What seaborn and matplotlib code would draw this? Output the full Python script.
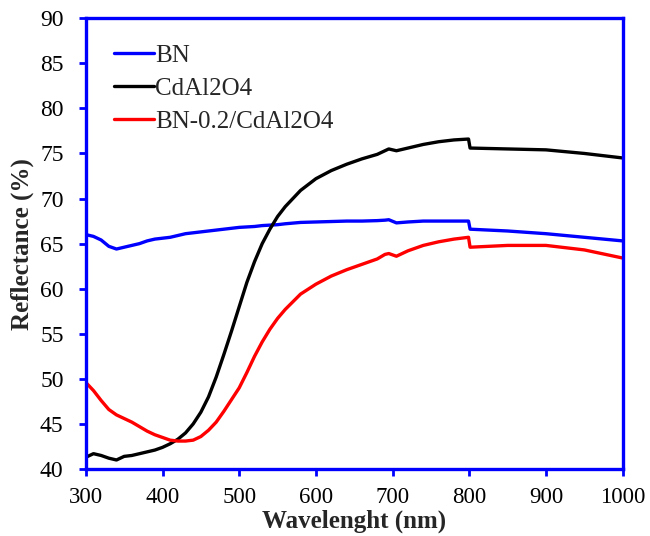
import matplotlib
matplotlib.use("Agg")
import matplotlib.pyplot as plt
import numpy as np
import pandas as pd
import seaborn as sns

# wavelength grid (nm) shared by all three spectra; 799/801 carry the detector step
WAVELENGTH = [300, 310, 320, 330, 340, 350, 360, 370, 380, 390, 400, 410, 420, 430,
              440, 450, 460, 470, 480, 490, 500, 510, 520, 530, 540, 550, 560, 580,
              600, 620, 640, 660, 680, 690, 695, 705, 720, 740, 760, 780, 799, 801,
              850, 900, 950, 1000]

BN = [66.0, 65.8, 65.4, 64.7, 64.4, 64.6, 64.8, 65.0, 65.3, 65.5, 65.6, 65.7, 65.9, 66.1,
      66.2, 66.3, 66.4, 66.5, 66.6, 66.7, 66.8, 66.85, 66.9, 67.0, 67.05, 67.1, 67.2, 67.35,
      67.4, 67.45, 67.5, 67.5, 67.55, 67.6, 67.65, 67.3, 67.4, 67.5, 67.5, 67.5, 67.5, 66.6,
      66.4, 66.1, 65.7, 65.3]

CDAL2O4 = [41.3, 41.7, 41.5, 41.2, 41.0, 41.4, 41.5, 41.7, 41.9, 42.1, 42.4, 42.8, 43.3, 44.0,
           45.0, 46.3, 48.0, 50.2, 52.7, 55.3, 58.0, 60.7, 63.0, 65.0, 66.6, 68.0, 69.1, 70.9,
           72.2, 73.1, 73.8, 74.4, 74.9, 75.3, 75.5, 75.3, 75.6, 76.0, 76.3, 76.5, 76.6, 75.6,
           75.5, 75.4, 75.0, 74.5]

BN_CDAL2O4 = [49.6, 48.7, 47.6, 46.6, 46.0, 45.6, 45.2, 44.7, 44.2, 43.8, 43.5, 43.2, 43.1, 43.1,
              43.2, 43.6, 44.3, 45.2, 46.4, 47.7, 49.0, 50.7, 52.5, 54.1, 55.5, 56.7, 57.7, 59.4,
              60.5, 61.4, 62.1, 62.7, 63.3, 63.8, 63.9, 63.6, 64.2, 64.8, 65.2, 65.5, 65.7, 64.6,
              64.8, 64.8, 64.3, 63.4]

SERIES = ["BN", "CdAl2O4", "BN-0.2/CdAl2O4"]
COLORS = ["#0000ff", "#000000", "#ff0000"]

df = pd.DataFrame({
    "Wavelength": WAVELENGTH * 3,
    "Reflectance": BN + CDAL2O4 + BN_CDAL2O4,
    "Sample": np.repeat(SERIES, len(WAVELENGTH)),
})

sns.set_theme(style="white")
plt.rcParams["font.family"] = ["Liberation Serif", "DejaVu Serif"]

fig = plt.figure(figsize=(6.5, 5.36), dpi=100)
ax = fig.add_axes([0.132, 0.125, 0.826, 0.841])

sns.lineplot(data=df, x="Wavelength", y="Reflectance", hue="Sample",
             hue_order=SERIES, palette=COLORS, sort=False, estimator=None,
             linewidth=2.4, ax=ax)

ax.set_xlim(300, 1000)
ax.set_ylim(40, 90)
ax.set_xticks(range(300, 1001, 100))
ax.set_yticks(range(40, 91, 5))
ax.tick_params(axis="both", direction="out", length=5, width=2, color="#0000ff",
               labelsize=17, labelcolor="black",
               bottom=True, left=True, top=False, right=False)
ax.tick_params(axis="x", pad=8, labelsize=16.5)
ax.tick_params(axis="y", pad=11)
for side in ["left", "right", "top", "bottom"]:
    ax.spines[side].set_color("#0000ff")
    ax.spines[side].set_linewidth(2.4)

ax.set_xlabel("Wavelenght (nm)", fontsize=18, fontweight="bold", labelpad=1)
ax.set_ylabel("Reflectance (%)", fontsize=18, fontweight="bold", labelpad=4)

leg = ax.legend(loc="upper left", bbox_to_anchor=(0.02, 0.98), frameon=False,
                fontsize=18, handlelength=1.6, handletextpad=0.05, labelspacing=0.42,
                borderaxespad=0.3)
for line in leg.get_lines():
    line.set_linewidth(2.4)

fig.savefig("out.png", dpi=100)
